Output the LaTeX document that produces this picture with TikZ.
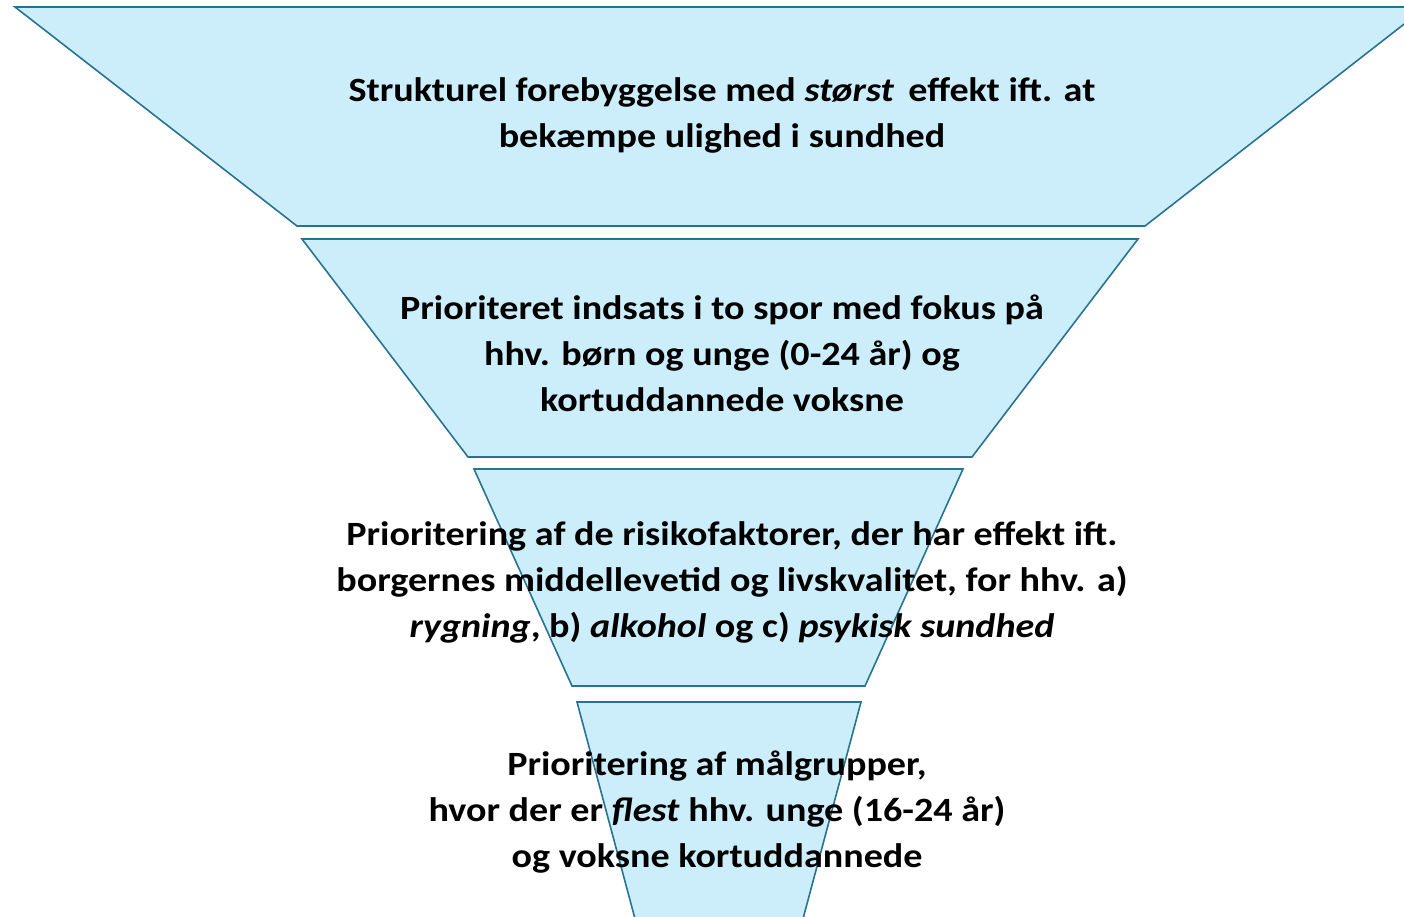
\documentclass[tikz,border=0pt]{standalone}
\usepackage{fontspec}
\setmainfont{Carlito}[FakeStretch=1.12]
\definecolor{funfill}{RGB}{204,238,250}
\definecolor{funline}{RGB}{40,115,145}
\begin{document}
\begin{tikzpicture}[x=1pt,y=-1pt,
  funnel/.style={fill=funfill,draw=funline,line width=1.6pt,line join=miter},
  lbl/.style={align=center,font=\fontsize{34}{46}\selectfont\bfseries,text=black,inner sep=0pt}]
\useasboundingbox (0,0) rectangle (1404,917);
\clip (0,0) rectangle (1404,917);
\draw[funnel] (15,7) -- (1426,7) -- (1145,226) -- (297,226) -- cycle;
\draw[funnel] (302,239) -- (1138,239) -- (972,457) -- (468,457) -- cycle;
\draw[funnel] (474,469) -- (963,469) -- (865,686) -- (572,686) -- cycle;
\draw[funnel] (577,702) -- (861,702) -- (800,930) -- (638,930) -- cycle;
\node[lbl] (t1) at (722,115) {Strukturel forebyggelse med \textit{størst}\, effekt ift. at\\bekæmpe ulighed i sundhed};
\node[lbl] (t2) at (722,353) {Prioriteret indsats i to spor med fokus på\\hhv. børn og unge (0-24 år) og\\kortuddannede voksne};
\node[lbl] (t3) at (732,582) {Prioritering af de risikofaktorer, der har effekt ift.\\borgernes middellevetid og livskvalitet, for hhv. a)\\\textit{rygning}, b) \textit{alkohol} og c) \textit{psykisk sundhed}};
\node[lbl] (t4) at (717,812) {Prioritering af målgrupper,\\hvor der er \textit{flest} hhv. unge (16-24 år)\\og voksne kortuddannede};
\end{tikzpicture}
\end{document}
